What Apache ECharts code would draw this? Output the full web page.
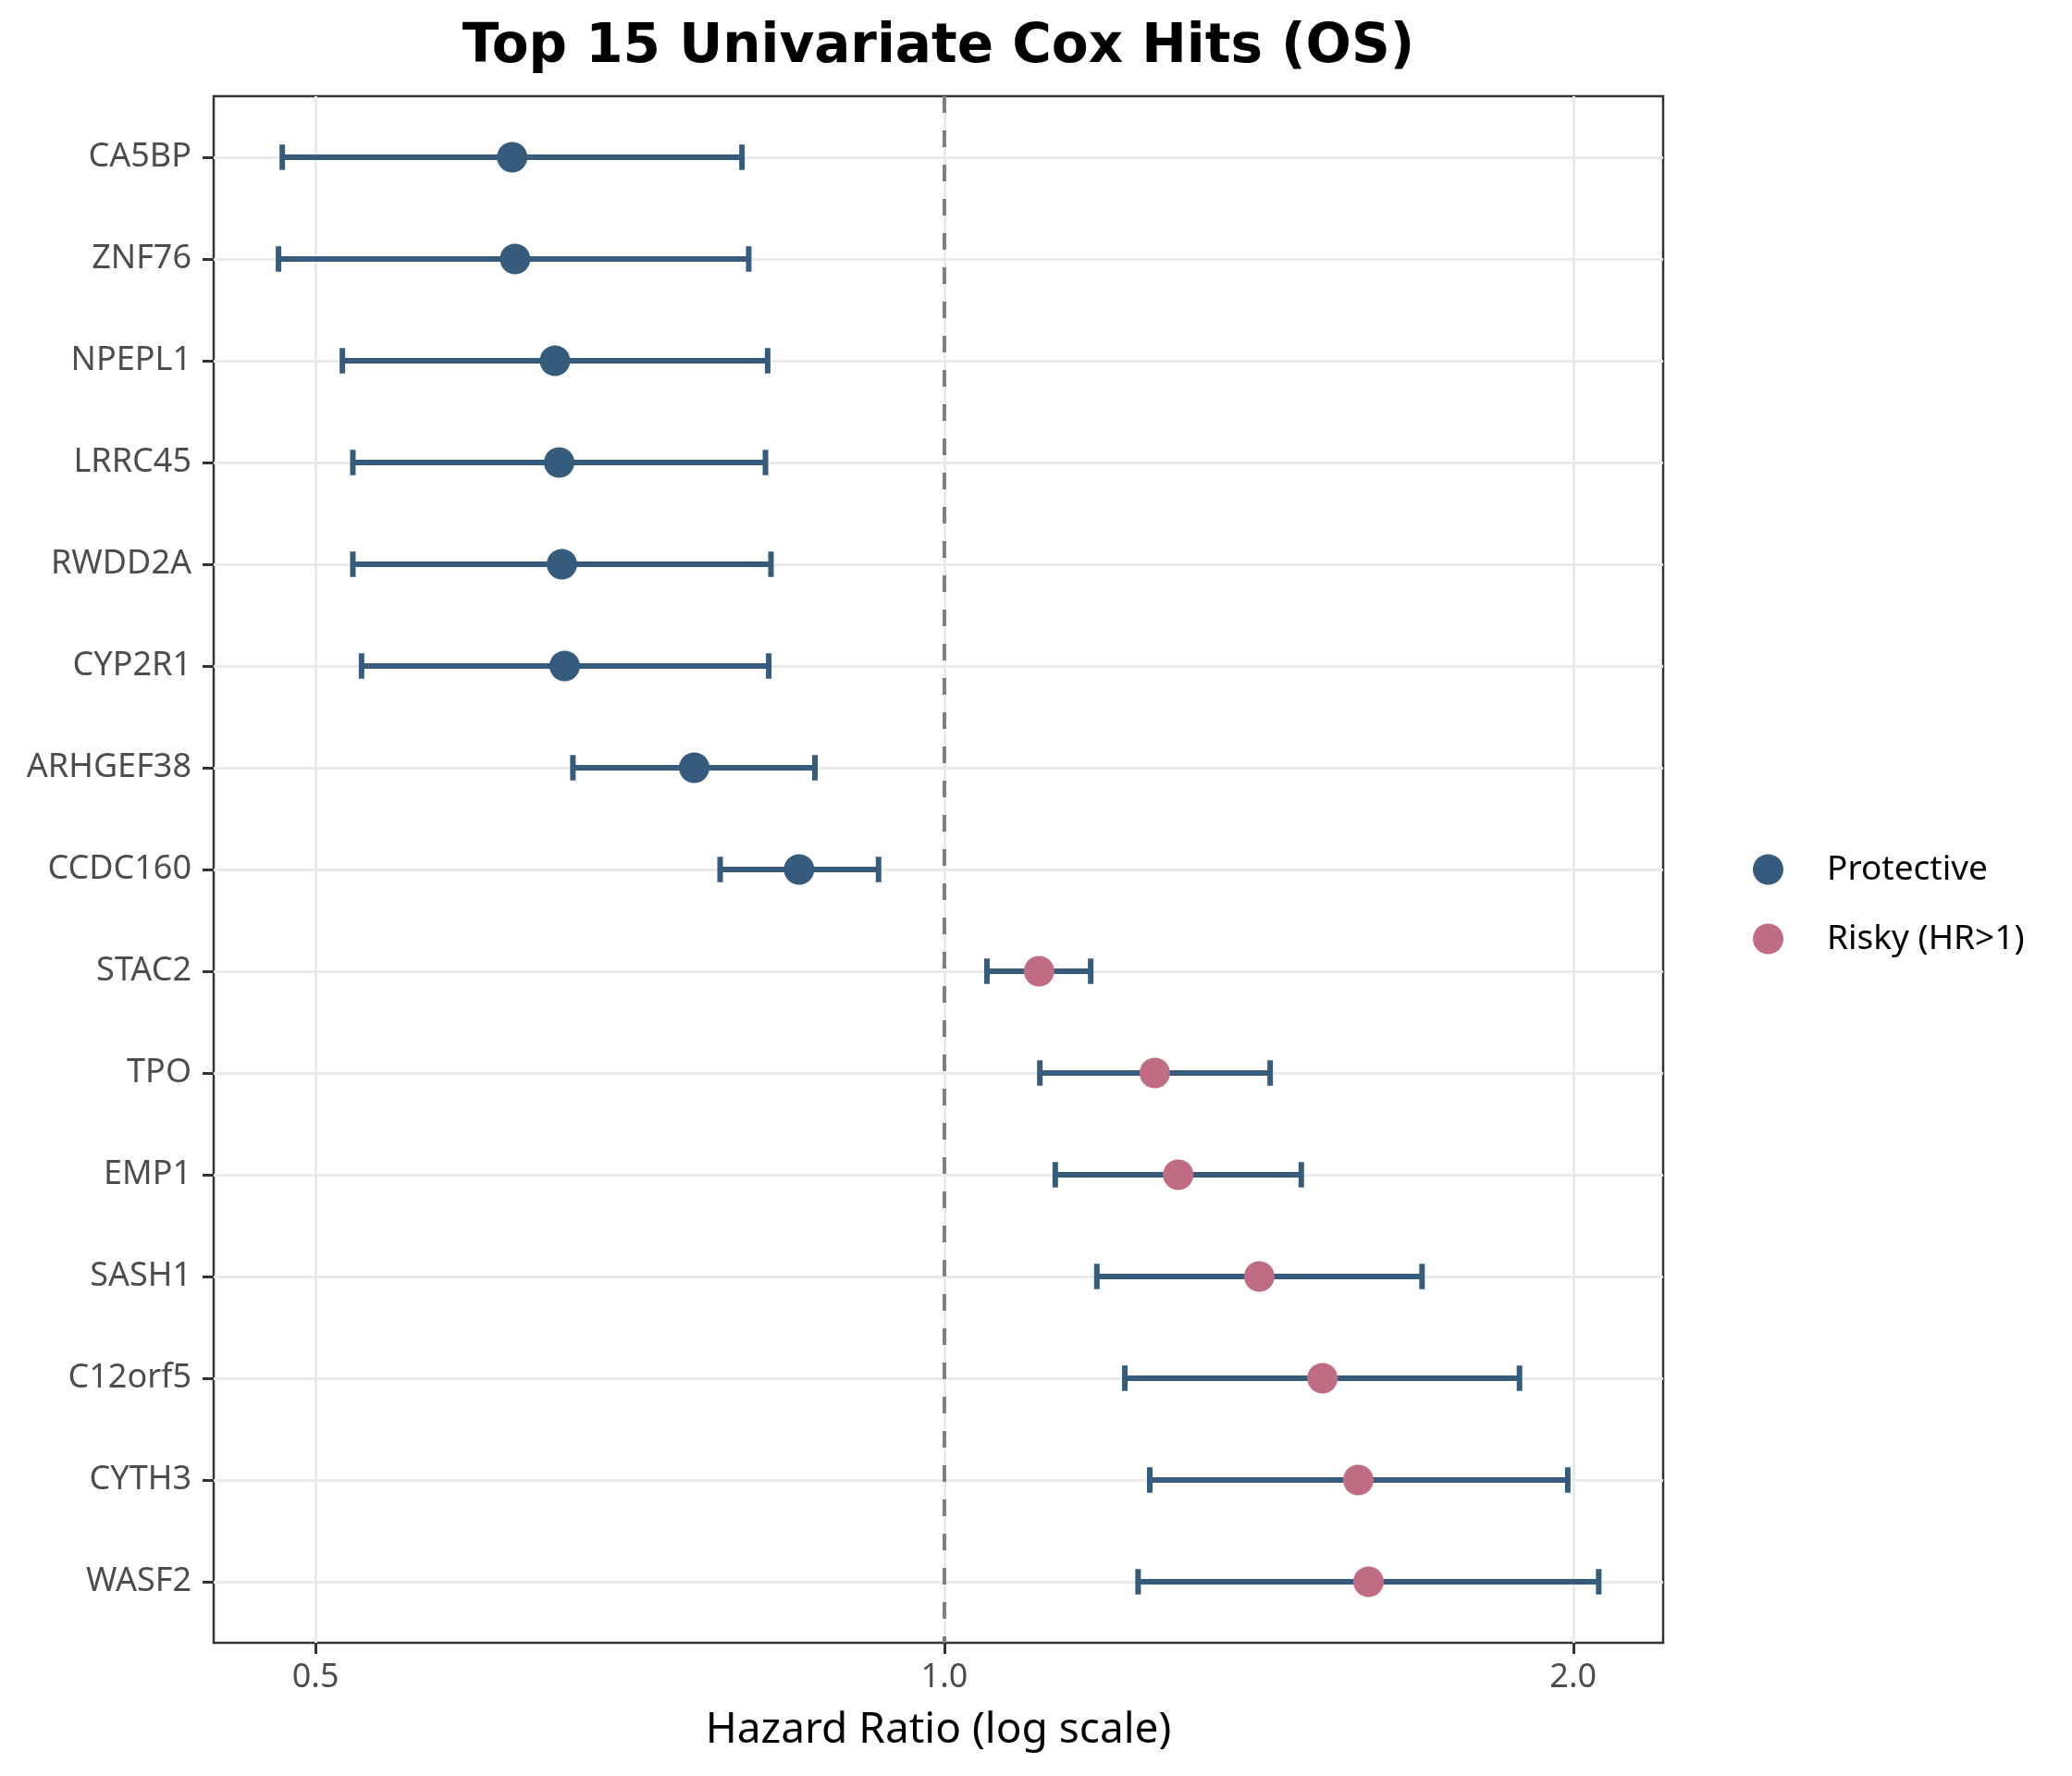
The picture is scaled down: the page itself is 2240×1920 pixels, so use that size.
<!DOCTYPE html>
<html><head><meta charset="utf-8">
<script src="https://cdn.jsdelivr.net/npm/echarts@6/dist/echarts.min.js"></script>
<style>html,body{margin:0;padding:0;background:#fff}#c{width:2240px;height:1920px}</style>
</head><body><div id="c"></div>
<script>
const genes = ['CA5BP','ZNF76','NPEPL1','LRRC45','RWDD2A','CYP2R1','ARHGEF38','CCDC160','STAC2','TPO','EMP1','SASH1','C12orf5','CYTH3','WASF2'];
const hr     = [0.621,0.623,0.651,0.654,0.656,0.658,0.759,0.852,1.110,1.261,1.294,1.415,1.517,1.578,1.596];
const ciLow  = [0.482,0.480,0.515,0.521,0.521,0.526,0.664,0.781,1.048,1.111,1.130,1.183,1.220,1.254,1.238];
const ciHigh = [0.800,0.806,0.823,0.821,0.826,0.824,0.867,0.930,1.175,1.432,1.482,1.693,1.885,1.988,2.057];
const xTicks = [0.5, 1.0, 2.0];
const groupNames = ['Protective', 'Risky (HR>1)'];
const groupColors = ['#355C7D', '#C06C84'];

const L2 = Math.log2;
const font = 'Noto Sans';
const errData = genes.map((g, i) => [L2(ciLow[i]), L2(ciHigh[i]), i]);
const protData = [], riskData = [];
genes.forEach((g, i) => { (hr[i] > 1 ? riskData : protData).push([L2(hr[i]), i]); });

const chart = echarts.init(document.getElementById('c'));
chart.setOption({
  animation: false,
  backgroundColor: '#fff',
  graphic: [{
    type: 'text', x: 1014.5, y: 52, z: 10,
    style: { text: 'Top 15 Univariate Cox Hits (OS)', fontFamily: 'DejaVu Sans', fontWeight: 'bold', fontSize: 58, fill: '#000', align: 'center', verticalAlign: 'middle' }
  }],
  grid: { left: 231, top: 104, right: 442, bottom: 144, containLabel: false, outerBoundsMode: 'none',
          show: true, borderColor: '#333333', borderWidth: 2.5, backgroundColor: 'transparent' },
  legend: {
    orient: 'vertical', left: 1890, top: 916.5, itemWidth: 33, itemHeight: 33, itemGap: 38,
    icon: 'circle', data: groupNames,
    textStyle: { fontFamily: font, fontSize: 37, color: '#000', padding: [0, 0, 0, 42] }
  },
  xAxis: {
    type: 'value', min: -1.162, max: 1.143,
    name: 'Hazard Ratio (log scale)', nameLocation: 'middle', nameGap: 72,
    nameTextStyle: { fontFamily: font, fontSize: 46, color: '#000' },
    axisLine: { show: false, onZero: false },
    axisTick: { show: true, length: 12, lineStyle: { color: '#333333', width: 3 }, customValues: xTicks.map(L2) },
    axisLabel: { fontFamily: font, fontSize: 36, color: '#4D4D4D', margin: 20,
                 customValues: xTicks.map(L2), formatter: v => Math.pow(2, v).toFixed(1) },
    splitLine: { show: true, lineStyle: { color: '#EBEBEB', width: 3 } }
  },
  yAxis: {
    type: 'value', min: -0.6, max: 14.6, inverse: true,
    axisLine: { show: false, onZero: false },
    axisTick: { show: true, length: 12, lineStyle: { color: '#333333', width: 3 }, customValues: genes.map((g, i) => i) },
    axisLabel: { fontFamily: font, fontSize: 36, color: '#4D4D4D', margin: 24,
                 customValues: genes.map((g, i) => i), formatter: v => genes[Math.round(v)] },
    splitLine: { show: true, lineStyle: { color: '#EBEBEB', width: 3 } }
  },
  series: [
    {
      type: 'custom', name: 'ci', data: errData, encode: { x: [0, 1], y: 2 }, z: 2,
      renderItem: (params, api) => {
        const a = api.coord([api.value(0), api.value(2)]);
        const b = api.coord([api.value(1), api.value(2)]);
        const h = Math.abs(api.size([0, 0.25])[1]) / 2;
        const st = { stroke: '#355C7D', lineWidth: 6, fill: null };
        return { type: 'group', children: [
          { type: 'line', shape: { x1: a[0], y1: a[1], x2: b[0], y2: b[1] }, style: st },
          { type: 'line', shape: { x1: a[0], y1: a[1] - h, x2: a[0], y2: a[1] + h }, style: st },
          { type: 'line', shape: { x1: b[0], y1: b[1] - h, x2: b[0], y2: b[1] + h }, style: st }
        ]};
      },
      markLine: {
        silent: true, symbol: ['none', 'none'], label: { show: false },
        lineStyle: { color: '#7F7F7F', width: 4, type: [18, 19] },
        data: [{ xAxis: L2(1) }]
      }
    },
    { type: 'scatter', name: groupNames[0], data: protData, symbolSize: 33, z: 3,
      itemStyle: { color: groupColors[0], opacity: 1 } },
    { type: 'scatter', name: groupNames[1], data: riskData, symbolSize: 33, z: 3,
      itemStyle: { color: groupColors[1], opacity: 1 } }
  ]
});
</script></body></html>
